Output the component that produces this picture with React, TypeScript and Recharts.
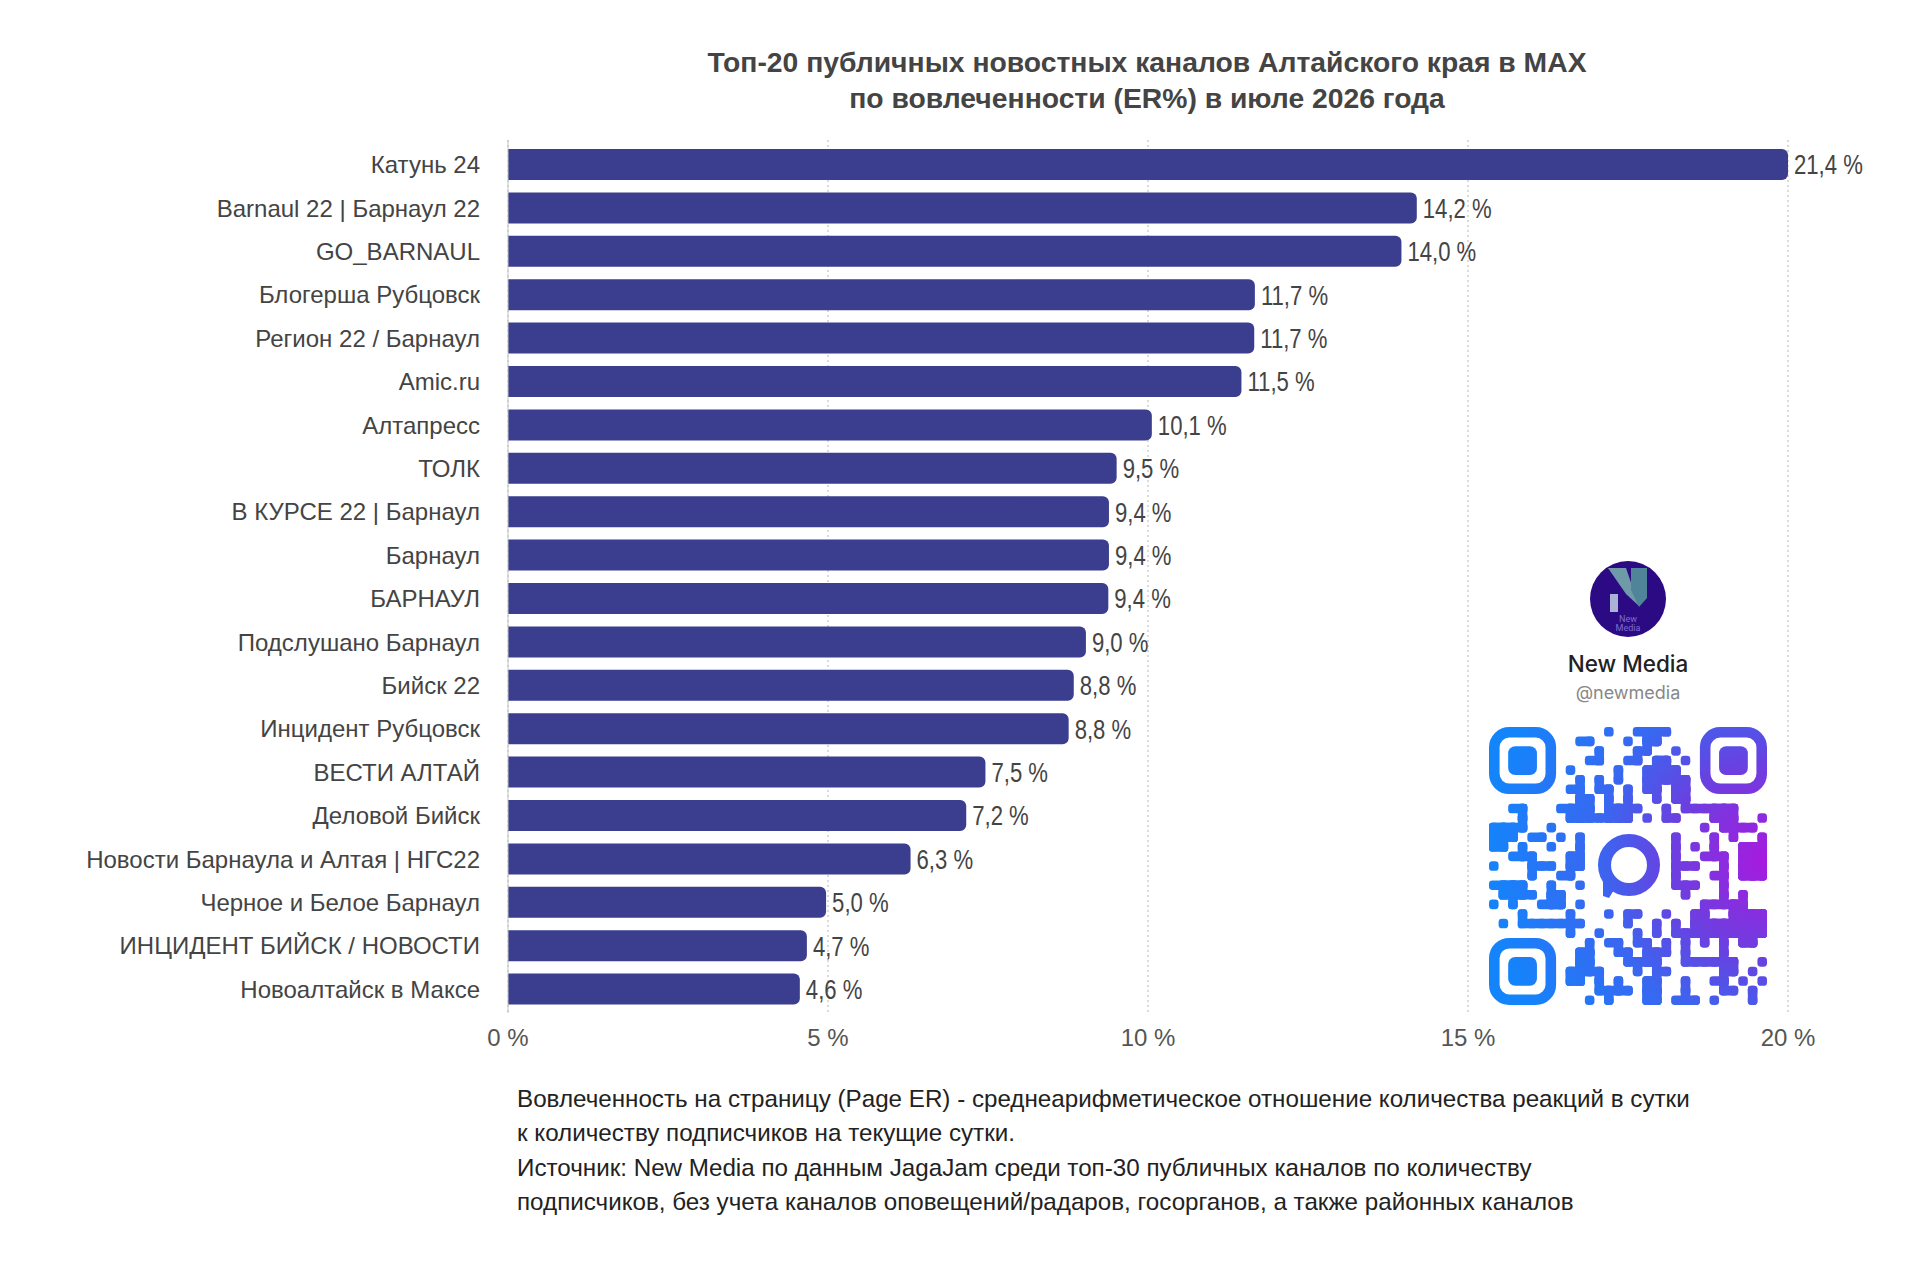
import { BarChart, Bar, XAxis, YAxis, CartesianGrid, LabelList } from "recharts";

const channels = [
  "Катунь 24",
  "Barnaul 22 | Барнаул 22",
  "GO_BARNAUL",
  "Блогерша Рубцовск",
  "Регион 22 / Барнаул",
  "Amic.ru",
  "Алтапресс",
  "ТОЛК",
  "В КУРСЕ 22 | Барнаул",
  "Барнаул",
  "БАРНАУЛ",
  "Подслушано Барнаул",
  "Бийск 22",
  "Инцидент Рубцовск",
  "ВЕСТИ АЛТАЙ",
  "Деловой Бийск",
  "Новости Барнаула и Алтая | НГС22",
  "Черное и Белое Барнаул",
  "ИНЦИДЕНТ БИЙСК / НОВОСТИ",
  "Новоалтайск в Максе",
];
const erValues = [21.4, 14.2, 13.96, 11.67, 11.66, 11.46, 10.06, 9.51, 9.39, 9.39, 9.38, 9.03, 8.84, 8.76, 7.46, 7.16, 6.29, 4.97, 4.67, 4.56];
const axisTicks = [0, 5, 10, 15, 20];
const axisMax = 20;
const titleLines = [
  "Топ-20 публичных новостных каналов Алтайского края в MAX",
  "по вовлеченности (ER%) в июле 2026 года",
];
const noteLines = [
  "Вовлеченность на страницу (Page ER) - среднеарифметическое отношение количества реакций в сутки",
  "к количеству подписчиков на текущие сутки.",
  "Источник: New Media по данным JagaJam среди топ-30 публичных каналов по количеству",
  "подписчиков, без учета каналов оповещений/радаров, госорганов, а также районных каналов",
];

// the first bar runs past the axis in the original, it is cut at the last tick
const rows = channels.map((name, i) => ({
  name,
  er: erValues[i],
  bar: Math.min(erValues[i], axisMax),
}));

const qrRows = [
  "11111110000010011110001111111",
  "10000010011000101100001000001",
  "10111010000100011001001011101",
  "10111010001100110110101011101",
  "10111010100001001111001011101",
  "10000010010101001111101000001",
  "11111110110110101101101111111",
  "00000000011010100101100000000",
  "00110001111011110010111111000",
  "00010000111111101011000111001",
  "11110010000000000000001011110",
  "11101101010000000001000101001",
  "11010010010000000001010100111",
  "00111000110000000001001110111",
  "10001110110000000001110010111",
  "00001001100000000001000110111",
  "11110010010000000001110010000",
  "01111011000000000000100010100",
  "10100111010000000000001111100",
  "00010000100010110010011001111",
  "01011111110000100101011111111",
  "00000000100100010101111111111",
  "11111110001011011010101010110",
  "10000010011001101110100010000",
  "10111010011000111100111111001",
  "10111010111100010110000011010",
  "10111010110101001100100110101",
  "10000010000111101100100011010",
  "11111110001010001101110100010",
];

const qrX = 1489;
const qrY = 727;
const qrCell = 278 / 29;
const finders = [
  [0, 0],
  [22, 0],
  [0, 22],
];
const inFinder = (c: number, r: number) =>
  finders.some(([fx, fy]) => c >= fx && c < fx + 7 && r >= fy && r < fy + 7);
const isDark = (c: number, r: number) => qrRows[r]?.[c] === "1" && !inFinder(c, r);

const QrCode = () => {
  const inset = 3.4;
  const core = qrCell - inset * 2;
  return (
    <g fill="url(#qrFill)" stroke="url(#qrFill)" strokeWidth={inset * 2} strokeLinejoin="round">
      {qrRows.flatMap((row, r) =>
        row.split("").map((_, c) => {
          if (!isDark(c, r)) return null;
          const x = qrX + c * qrCell + inset;
          const y = qrY + r * qrCell + inset;
          const right = isDark(c + 1, r);
          const down = isDark(c, r + 1);
          return (
            <g key={r + "-" + c}>
              <rect x={x} y={y} width={core + (right ? qrCell : 0)} height={core} />
              {down && <rect x={x} y={y} width={core} height={core + qrCell} />}
              {right && down && isDark(c + 1, r + 1) && (
                <rect x={x} y={y} width={core + qrCell} height={core + qrCell} />
              )}
            </g>
          );
        })
      )}
      {finders.map(([fx, fy]) => (
        <g key={fx + "-" + fy} strokeWidth={0}>
          <rect
            x={qrX + fx * qrCell + qrCell / 2 + 0.5}
            y={qrY + fy * qrCell + qrCell / 2 + 0.5}
            width={qrCell * 6 - 1}
            height={qrCell * 6 - 1}
            rx={15}
            fill="none"
            stroke="url(#qrFill)"
            strokeWidth={qrCell + 1}
          />
          <rect
            x={qrX + (fx + 2) * qrCell}
            y={qrY + (fy + 2) * qrCell}
            width={qrCell * 3}
            height={qrCell * 3}
            rx={7}
          />
        </g>
      ))}
      <circle cx={1629} cy={865} r={24.5} fill="none" strokeWidth={13} />
      <polygon points="1603,868 1617,885 1609,898 1603,896" strokeWidth={0} />
    </g>
  );
};

const Logo = () => (
  <g>
    <circle cx={1628} cy={599} r={38} fill="#2b0a84" />
    <polygon points="1608,568 1626,568 1639,606 1626,594" fill="#6f9aa8" />
    <polygon points="1631,568 1647,568 1647,598 1639,607 1631,590" fill="#4f8499" />
    <rect x={1610} y={594} width={8} height={18} fill="#a9b3d6" />
    <text x={1628} y={622} textAnchor="middle" fontSize={9} fill="#7c6fd0" fontFamily="Roboto">
      New
    </text>
    <text x={1628} y={631} textAnchor="middle" fontSize={9} fill="#7c6fd0" fontFamily="Roboto">
      Media
    </text>
    <text x={1628} y={672} textAnchor="middle" fontSize={22.5} fontWeight={500} fill="#222" fontFamily="Inter">
      New Media
    </text>
    <text x={1628} y={699} textAnchor="middle" fontSize={18} fill="#888" fontFamily="Inter">
      @newmedia
    </text>
  </g>
);

// value labels are a narrow face in the original, none is installed so squeeze the text
const ValueLabel = ({ x, y, width, height, value }: any) => (
  <text
    transform={`translate(${x + width + 6} ${y + height / 2}) scale(0.79 1)`}
    dominantBaseline="central"
    fontSize={28}
    fontFamily="Liberation Sans"
    fill="#444"
  >
    {Number(value).toFixed(1).replace(".", ",") + " %"}
  </text>
);

const App = () => {
  return (
    <div style={{ position: "absolute", left: 0, top: 0, width: 1920, height: 1281, background: "#fff" }}>
      <BarChart
        width={1920}
        height={1281}
        data={rows}
        layout="vertical"
        barSize={31}
        margin={{ top: 140, right: 132, bottom: 228, left: 8 }}
      >
        <CartesianGrid horizontal={false} strokeDasharray="2 3" stroke="#b5b5b5" />
        <XAxis
          type="number"
          domain={[0, axisMax]}
          ticks={axisTicks}
          tickFormatter={(v: number) => v + " %"}
          axisLine={false}
          tickLine={false}
          height={40}
          tickMargin={10}
          tick={{ fill: "#555", fontSize: 24, fontFamily: "Liberation Sans" }}
        />
        <YAxis
          type="category"
          dataKey="name"
          width={500}
          interval={0}
          tickLine={false}
          axisLine={{ stroke: "#c4c4c4" }}
          tickMargin={22}
          padding={{ top: 3, bottom: 2 }}
          tick={{ fill: "#444", fontSize: 24, fontFamily: "Liberation Sans" }}
        />
        <Bar dataKey="bar" fill="#3b3e8e" radius={[0, 6, 6, 0]} isAnimationActive={false}>
          <LabelList dataKey="er" content={ValueLabel} />
        </Bar>
      </BarChart>

      {titleLines.map((line, i) => (
        <div
          key={line}
          style={{
            position: "absolute",
            left: 0,
            width: 2294,
            top: 46 + i * 36,
            textAlign: "center",
            font: "bold 28.3px 'Liberation Sans'",
            color: "#444",
            whiteSpace: "nowrap",
          }}
        >
          {line}
        </div>
      ))}
      {noteLines.map((line, i) => (
        <div
          key={line}
          style={{
            position: "absolute",
            left: 517,
            top: 1085 + i * 34.3,
            font: "24.2px 'Liberation Sans'",
            color: "#222",
            whiteSpace: "nowrap",
          }}
        >
          {line}
        </div>
      ))}
      <svg width={1920} height={1281} style={{ position: "absolute", left: 0, top: 0, pointerEvents: "none" }}>
        <defs>
          <radialGradient id="qrFill" gradientUnits="userSpaceOnUse" cx={1767} cy={860} r={280}>
            <stop offset="0" stopColor="#a81adf" />
            <stop offset="0.35" stopColor="#6a40e0" />
            <stop offset="0.6" stopColor="#3a66f0" />
            <stop offset="1" stopColor="#1484fb" />
          </radialGradient>
        </defs>
        <Logo />
        <QrCode />
      </svg>
    </div>
  );
};

export default App;
